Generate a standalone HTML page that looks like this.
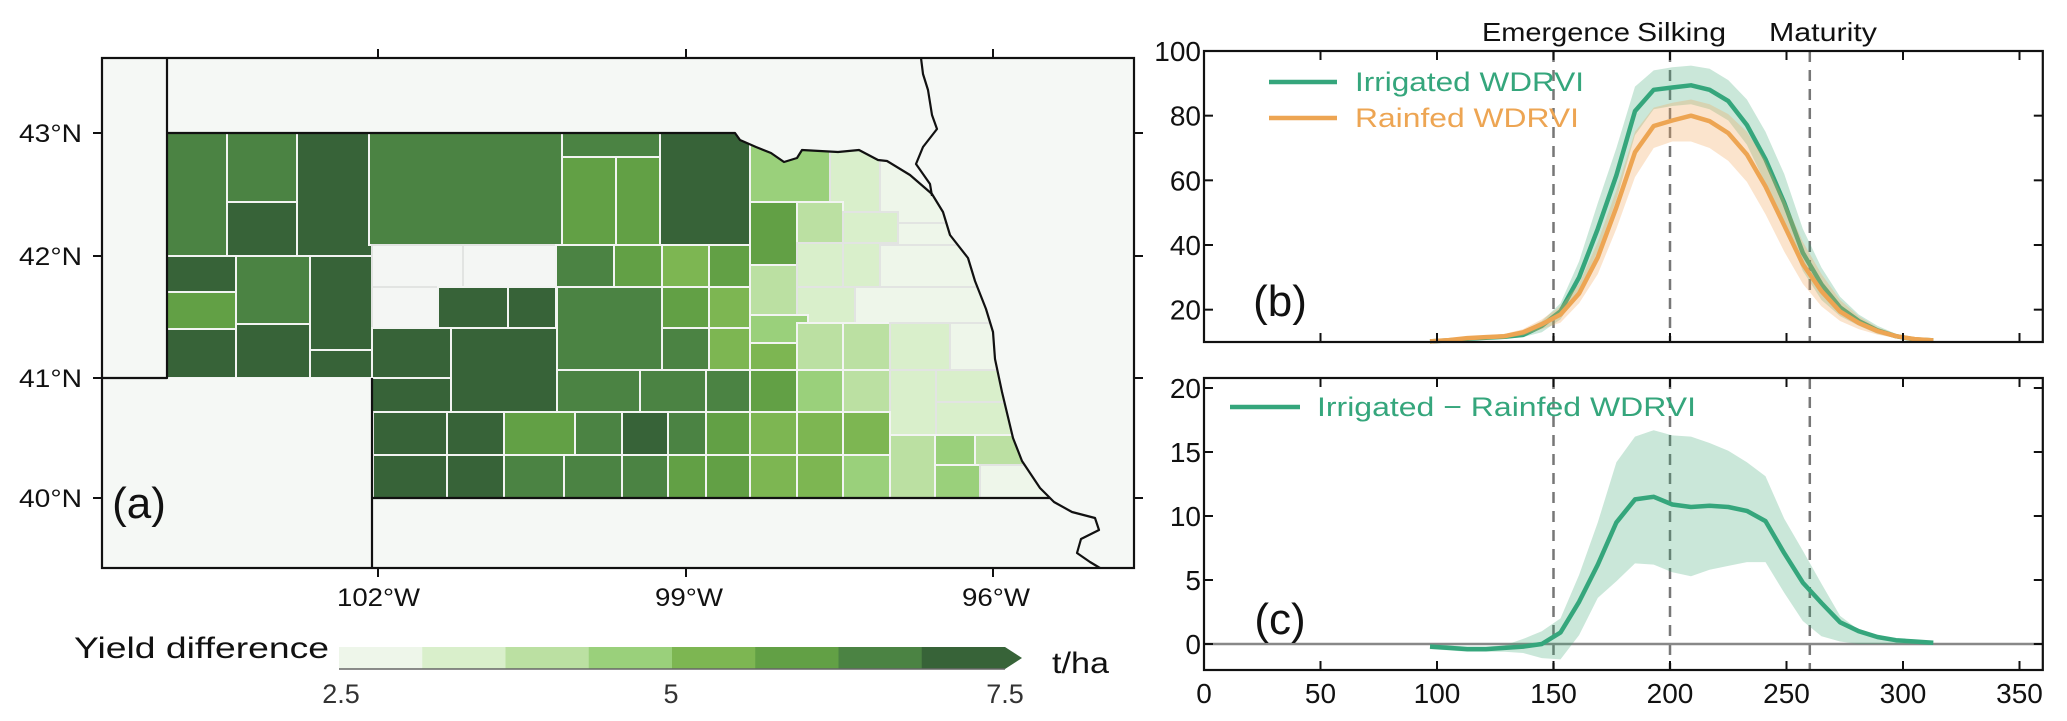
<!DOCTYPE html>
<html><head><meta charset="utf-8"><style>
html,body{margin:0;padding:0;background:#fff;}
svg{display:block;font-family:"Liberation Sans",sans-serif;}
</style></head><body>
<svg id="fig" width="2067" height="721" viewBox="0 0 2067 721" xmlns="http://www.w3.org/2000/svg">
<defs>
<clipPath id="ne"><polygon points="167,133 735,133 740,140 756,147 771,153 784,162 797,158 802,150 838,152 859,150 878,160 887,161 910,175 932,194 943,212 950,235 968,258 975,281 986,309 993,332 995,359 1002,392 1013,438 1022,461 1040,488 1050,498 372,498 372,378 167,378"/></clipPath>
</defs>
<g id="map">
<rect x="102" y="58" width="1032" height="510" fill="#f5f8f5"/>
<g id="counties" clip-path="url(#ne)"></g>
<g fill="none" stroke="#111" stroke-width="2.2" stroke-linejoin="round">
<polyline points="167,58 167,378 102,378"/>
<polyline points="167,133 735,133 740,140 756,147 771,153 784,162 797,158 802,150 838,152 859,150 878,160 887,161 910,175 932,194 943,212 950,235 968,258 975,281 986,309 993,332 995,359 1002,392 1013,438 1022,461 1040,488 1050,498 1054,502 1072,512 1095,518 1099,530 1081,539 1077,553 1090,562 1100,568"/>
<polyline points="372,568 372,378"/>
<polyline points="372,498 1050,498"/>
<polyline points="921,58 923,74 928,90 932,115 937,129 923,147 916,164 930,184 932,196"/>
</g>
<rect x="102" y="58" width="1032" height="510" fill="none" stroke="#111" stroke-width="2.2"/>
<g stroke="#111" stroke-width="2">
<line x1="378" y1="58" x2="378" y2="49"/><line x1="686" y1="58" x2="686" y2="49"/><line x1="993" y1="58" x2="993" y2="49"/>
<line x1="378" y1="568" x2="378" y2="577"/><line x1="686" y1="568" x2="686" y2="577"/><line x1="993" y1="568" x2="993" y2="577"/>
<line x1="102" y1="133" x2="93" y2="133"/><line x1="102" y1="256" x2="93" y2="256"/><line x1="102" y1="378" x2="93" y2="378"/><line x1="102" y1="498" x2="93" y2="498"/>
<line x1="1134" y1="133" x2="1143" y2="133"/><line x1="1134" y1="256" x2="1143" y2="256"/><line x1="1134" y1="378" x2="1143" y2="378"/><line x1="1134" y1="498" x2="1143" y2="498"/>
</g>
<g font-size="25" fill="#111">
<text x="19" y="142" textLength="63" lengthAdjust="spacingAndGlyphs">43°N</text>
<text x="19" y="265" textLength="63" lengthAdjust="spacingAndGlyphs">42°N</text>
<text x="19" y="387" textLength="63" lengthAdjust="spacingAndGlyphs">41°N</text>
<text x="19" y="507" textLength="63" lengthAdjust="spacingAndGlyphs">40°N</text>
<text x="337" y="606" textLength="83" lengthAdjust="spacingAndGlyphs">102°W</text>
<text x="655" y="606" textLength="68" lengthAdjust="spacingAndGlyphs">99°W</text>
<text x="962" y="606" textLength="68" lengthAdjust="spacingAndGlyphs">96°W</text>
</g>
<text x="139" y="518" font-size="44" text-anchor="middle" fill="#111">(a)</text>
<g id="colorbar">
<text x="74" y="658" font-size="30" fill="#111" textLength="255" lengthAdjust="spacingAndGlyphs">Yield difference</text>
<text x="1052" y="673" font-size="30" fill="#111" textLength="57" lengthAdjust="spacingAndGlyphs">t/ha</text>
<text x="341" y="703" font-size="27" fill="#333" text-anchor="middle">2.5</text>
<text x="671" y="703" font-size="27" fill="#333" text-anchor="middle">5</text>
<text x="1005" y="703" font-size="27" fill="#333" text-anchor="middle">7.5</text>
</g>
</g>
<g id="chartB"></g>
<g id="chartC"></g>
</svg>
<script>
// ---------- chart data ----------
const days = [97,105,113,121,129,137,145,153,161,169,177,185,193,201,209,217,225,233,241,249,257,265,273,281,289,297,305,313];
const irrigated = [10.2,10.5,11,11.3,11.6,12.2,15,19.5,30,45,61.6,81.4,88,88.7,89.4,88,84.5,77.1,66.5,53.1,37.6,27.8,20.7,16.5,13.6,11.8,10.8,10.5];
const irrigatedUpper = [10.5,11,11.5,12,12.5,13.5,16.5,22,35,53,70,89,94,95,95.5,94.5,91,85,75,62,45,33,24,18.5,15,12.5,11.2,10.8];
const irrigatedLower = [10,10.2,10.5,10.8,11,11.5,13,17,26,38,54,74,82,83,83.5,82,78.5,71,59,46,32,23,18,15,12.5,11.2,10.5,10.3];
const rainfed = [10.2,10.6,11.2,11.5,11.8,13,15.5,18.5,25,36.2,51.7,68.7,76.8,78.5,80,78.3,74.6,68,58.1,46.1,34.1,25.7,19.4,15.9,13.4,11.8,10.9,10.5];
const rainfedUpper = [10.5,11,11.6,12,12.5,14,17,21,28,41,57,75,82.5,84,85,83.5,80.5,75,66,54,41,31,23,18,14.5,12.5,11.3,10.8];
const rainfedLower = [10,10.2,10.6,11,11.2,12,14,16,22,31,45,61,70,72,72,70,66,59.5,49.5,38,28,21,16.5,14,12.3,11.2,10.5,10.2];
const diff = [-0.2,-0.3,-0.4,-0.4,-0.3,-0.2,0,0.9,3.3,6.2,9.5,11.3,11.5,10.9,10.7,10.8,10.7,10.4,9.6,7.1,4.8,3.2,1.7,1.0,0.55,0.3,0.2,0.1];
const diffUpper = [0,-0.1,-0.2,-0.2,-0.1,0.4,1,2,5.4,9.5,14.2,16.2,16.7,16.3,16.2,15.7,15.1,14.2,13.1,9.8,7.3,4.7,2.2,1.1,0.7,0.4,0.3,0.2];
const diffLower = [-0.4,-0.5,-0.6,-0.6,-0.6,-0.7,-1.1,-1.2,0.7,3.6,4.9,6.3,6.2,5.6,5.3,5.8,6.1,6.4,6.4,4.0,1.8,0.6,0.2,0,0,0,0,0];
const stageNames = ["Emergence","Silking","Maturity"];
const stageDays = [150,200,260];
const xTicks = [0,50,100,150,200,250,300,350];
const yTicksB = [20,40,60,80,100];
const yTicksC = [0,5,10,15,20];
// colorbar
const cbColors = ["#eef6ea","#d9efcb","#bbe0a2","#9ad07b","#7db652","#62a045","#4b8343","#376338"];
// counties: x1,y1,x2,y2,class (-1 = no data)
const counties = [
[167,133,227,256,6],[227,133,297,202,6],[227,202,300,256,7],[297,133,372,256,7],
[167,256,236,292,7],[167,292,236,329,5],[167,329,236,378,7],[236,256,310,324,6],[236,324,310,378,7],
[310,256,372,350,7],[310,350,372,378,7],[369,133,562,245,6],[562,133,660,157,6],[562,157,616,245,5],
[616,157,660,245,5],[660,133,750,245,7],[372,245,463,287,-1],[463,245,556,287,-1],[372,287,438,328,-1],
[438,287,508,328,7],[508,287,556,328,7],[556,245,614,287,6],[614,245,662,287,5],[662,245,709,287,4],
[709,245,750,287,5],[372,328,451,378,7],[451,328,557,412,7],[372,378,451,412,7],[557,287,662,370,6],
[662,287,709,328,5],[709,287,750,328,4],[662,328,709,370,6],[709,328,750,370,4],[557,370,640,412,6],
[640,370,706,412,6],[706,370,750,412,6],
[373,412,447,455,7],[447,412,504,455,7],[504,412,575,455,5],[575,412,622,455,6],[622,412,668,455,7],[668,412,706,455,6],
[373,455,447,498,7],[447,455,504,498,7],[504,455,564,498,6],[564,455,622,498,6],[622,455,668,498,6],[668,455,706,498,5],
[706,412,750,455,5],[706,455,750,498,5],
[750,133,830,202,3],[830,133,880,212,1],[880,133,1000,223,0],[750,202,797,265,5],[797,202,843,243,2],
[843,212,898,243,1],[898,223,1000,245,0],[750,265,797,315,2],[797,243,843,287,1],[843,243,880,287,1],
[880,245,1000,287,0],[797,287,855,323,1],[855,287,1000,323,0],[750,315,808,343,3],[750,343,797,370,4],
[797,323,843,370,2],[843,323,890,370,2],[890,323,950,370,1],[950,323,1060,370,0],[750,370,797,412,5],
[797,370,843,412,3],[843,370,890,412,2],[890,370,936,435,1],[936,370,1060,402,1],[936,402,1060,435,1],
[750,412,797,455,4],[750,455,797,498,4],[797,412,843,455,4],[797,455,843,498,4],[843,412,890,455,4],[843,455,890,498,3],
[890,435,935,498,2],[935,435,975,465,3],[975,435,1060,465,2],[935,465,980,498,3],[980,465,1060,498,0]
];

const NS = "http://www.w3.org/2000/svg";
function mk(tag, attrs, parent){ const e=document.createElementNS(NS,tag); for(const k in attrs) e.setAttribute(k,attrs[k]); parent.appendChild(e); return e; }

// counties
const cg = document.getElementById('counties');
counties.forEach(c=>{
  const r = mk('rect',{x:c[0],y:c[1],width:c[2]-c[0],height:c[3]-c[1],fill:c[4]<0?'#f4f6f4':cbColors[c[4]],stroke:c[4]<2?'#e2e4e2':'#f2f4f2','stroke-width':2},cg);
  
  
});

// colorbar
const cb = document.getElementById('colorbar');
const cbX0=339, cbX1=1005, cbY=647, cbH=22;
cbColors.forEach((col,i)=>{
  const w=(cbX1-cbX0)/cbColors.length;
  let el;
  if(i<cbColors.length-1){
    el = mk('rect',{x:cbX0+i*w,y:cbY,width:w+0.5,height:cbH,fill:col},cb);
  } else {
    el = mk('polygon',{points:`${cbX0+i*w},${cbY} ${cbX1},${cbY} ${cbX1+17},${cbY+cbH/2} ${cbX1},${cbY+cbH} ${cbX0+i*w},${cbY+cbH}`,fill:col},cb);
  }
  
  
});
const cbl = mk('line',{x1:cbX0,y1:cbY+cbH,x2:cbX1,y2:cbY+cbH,stroke:'#666','stroke-width':1.5},cb);



// ---------- chart axes ----------
const X0=1204, XPX=2.33, XMAX=360;
const xs = v => X0 + v*XPX;
const X1 = xs(XMAX);
const B = {top:51, bottom:342, vmin:10, vmax:100};
const ysB = v => B.bottom - (v-B.vmin)/(B.vmax-B.vmin)*(B.bottom-B.top);
const C = {top:378, bottom:670, vmin:-2.03, vmax:20.78};
const ysC = v => C.bottom - (v-C.vmin)/(C.vmax-C.vmin)*(C.bottom-C.top);

function linePath(xsArr, ysArr, ys){ return xsArr.map((d,i)=>(i?'L':'M')+xs(d).toFixed(1)+','+ys(ysArr[i]).toFixed(1)).join(''); }
function bandPath(xsArr, up, lo, ys){
  let p = xsArr.map((d,i)=>(i?'L':'M')+xs(d).toFixed(1)+','+ys(up[i]).toFixed(1)).join('');
  for(let i=xsArr.length-1;i>=0;i--) p+='L'+xs(xsArr[i]).toFixed(1)+','+ys(lo[i]).toFixed(1);
  return p+'Z';
}
function axes(g, P, ys, yTicks, name){
  yTicks.forEach(t=>{
    const y=ys(t);
    const l1=mk('line',{x1:X0,y1:y,x2:X0+9,y2:y,stroke:'#111','stroke-width':2},g);
    
    
    const l2=mk('line',{x1:X1,y1:y,x2:X1-9,y2:y,stroke:'#111','stroke-width':2},g);
    
    
    const tx=mk('text',{x:X0-3,y:y+10,'font-size':28,'text-anchor':'end',fill:'#111'},g);
    tx.textContent=t;
    
    
  });
  xTicks.forEach(t=>{
    const x=xs(t);
    const a=mk('line',{x1:x,y1:P.bottom,x2:x,y2:P.bottom-9,stroke:'#111','stroke-width':2},g);
    
    
    const b=mk('line',{x1:x,y1:P.top,x2:x,y2:P.top+9,stroke:'#111','stroke-width':2},g);
    
    
  });
  const fr=mk('rect',{x:X0,y:P.top,width:X1-X0,height:P.bottom-P.top,fill:'none',stroke:'#111','stroke-width':2.2},g);
  
  
}
function stages(g, P, name){
  stageDays.forEach(d=>{
    const l=mk('line',{x1:xs(d),y1:P.top,x2:xs(d),y2:P.bottom,stroke:'#777','stroke-width':2.5,'stroke-dasharray':'11,8'},g);
    
    
  });
}

// ---------- chart b ----------
const gb = document.getElementById('chartB');
stages(gb, B, 'chart-b');
let e;
e=mk('path',{d:bandPath(days,irrigatedUpper,irrigatedLower,ysB),fill:'rgba(60,165,115,0.27)'},gb);


e=mk('path',{d:linePath(days,irrigated,ysB),fill:'none',stroke:'#35a67c','stroke-width':4.5,'stroke-linejoin':'round'},gb);


e=mk('path',{d:bandPath(days,rainfedUpper,rainfedLower,ysB),fill:'rgba(242,165,90,0.30)'},gb);


e=mk('path',{d:linePath(days,rainfed,ysB),fill:'none',stroke:'#eda553','stroke-width':4.5,'stroke-linejoin':'round'},gb);


axes(gb, B, ysB, yTicksB, 'chart-b');
// stage labels
const stageX = [1482,1637,1769], stageW=[148,89,108];
stageNames.forEach((s,i)=>{
  const t=mk('text',{x:stageX[i],y:41,'font-size':26,fill:'#111',textLength:stageW[i],lengthAdjust:'spacingAndGlyphs'},gb);
  t.textContent=s;
  
  
});
e=mk('line',{x1:1269,y1:82,x2:1337,y2:82,stroke:'#35a67c','stroke-width':4.5},gb);


e=mk('text',{x:1355,y:91,'font-size':27,fill:'#35a67c',textLength:229,lengthAdjust:'spacingAndGlyphs'},gb);
e.textContent='Irrigated WDRVI';


e=mk('line',{x1:1269,y1:118,x2:1337,y2:118,stroke:'#eda553','stroke-width':4.5},gb);


e=mk('text',{x:1355,y:127,'font-size':27,fill:'#eda553',textLength:224,lengthAdjust:'spacingAndGlyphs'},gb);
e.textContent='Rainfed WDRVI';


e=mk('text',{x:1280,y:316,'font-size':44,'text-anchor':'middle',fill:'#111'},gb);
e.textContent='(b)';



// ---------- chart c ----------
const gc = document.getElementById('chartC');
stages(gc, C, 'chart-c');
e=mk('line',{x1:X0,y1:ysC(0),x2:X1,y2:ysC(0),stroke:'#888','stroke-width':2.5},gc);


e=mk('path',{d:bandPath(days,diffUpper,diffLower,ysC),fill:'rgba(60,165,115,0.27)'},gc);


e=mk('path',{d:linePath(days,diff,ysC),fill:'none',stroke:'#35a67c','stroke-width':4.5,'stroke-linejoin':'round'},gc);


axes(gc, C, ysC, yTicksC, 'chart-c');
xTicks.forEach(t=>{
  const tx=mk('text',{x:xs(t),y:703,'font-size':28,'text-anchor':'middle',fill:'#111'},gc);
  tx.textContent=t;
  
  
});
e=mk('line',{x1:1230,y1:407,x2:1300,y2:407,stroke:'#35a67c','stroke-width':4.5},gc);


e=mk('text',{x:1317,y:416,'font-size':27,fill:'#35a67c',textLength:379,lengthAdjust:'spacingAndGlyphs'},gc);
e.textContent='Irrigated − Rainfed WDRVI';


e=mk('text',{x:1280,y:634,'font-size':44,'text-anchor':'middle',fill:'#111'},gc);
e.textContent='(c)';


</script>
</body></html>
